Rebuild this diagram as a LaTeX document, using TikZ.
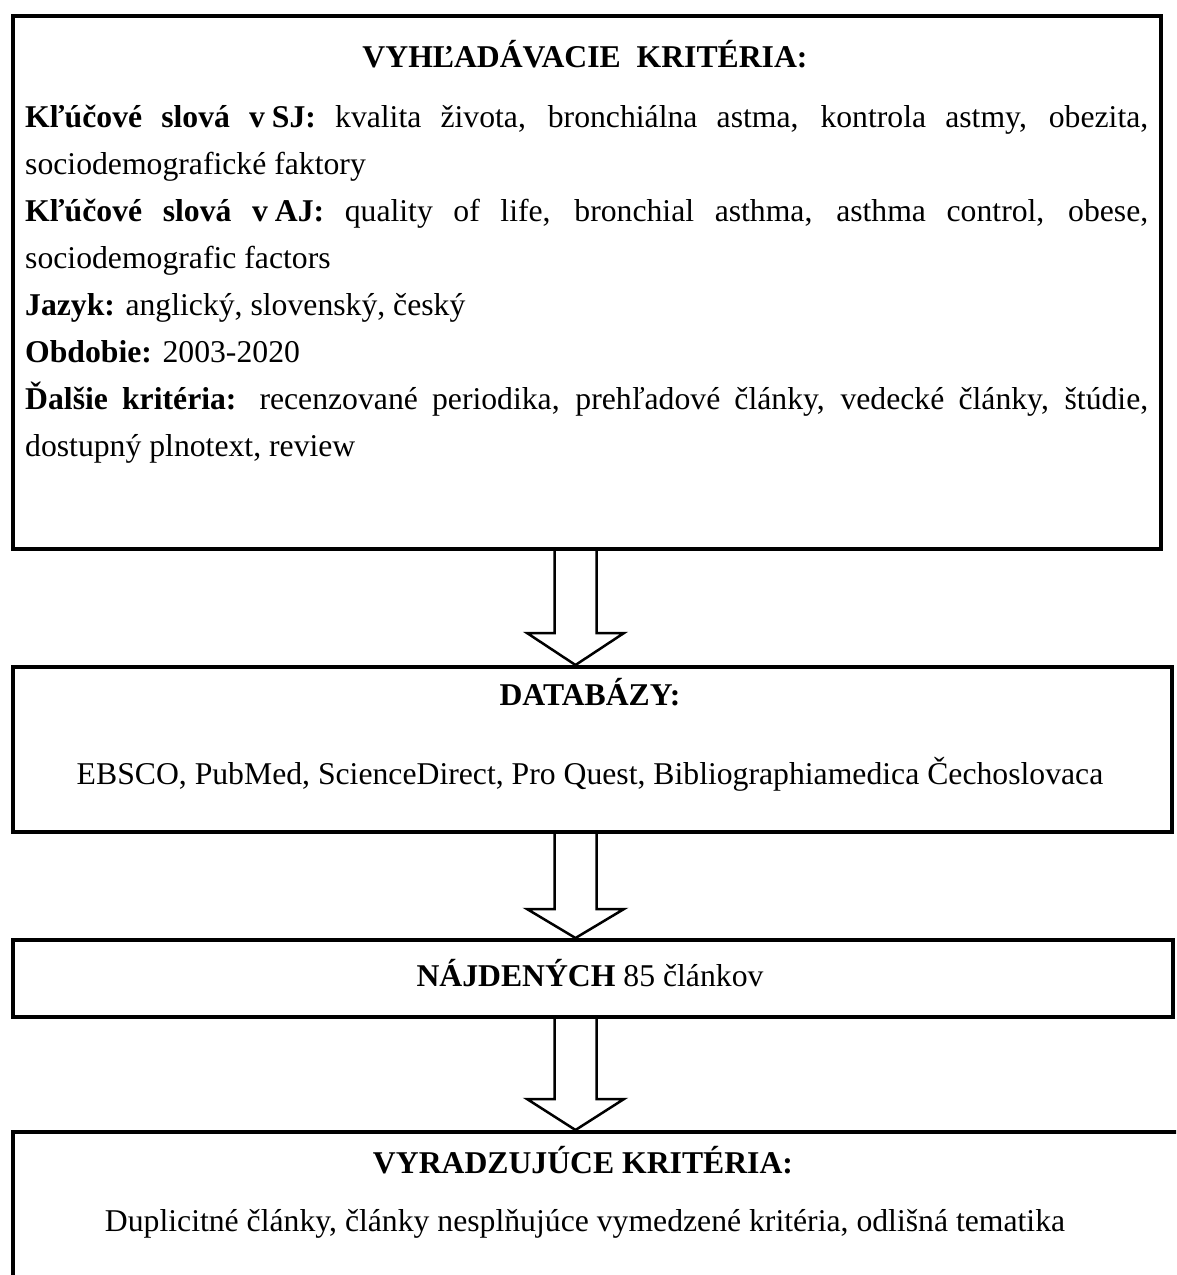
\documentclass[tikz,border=0pt]{standalone}
\usepackage{fontspec}
\setmainfont{Liberation Serif}
\usetikzlibrary{calc}
\newcommand{\bigfs}{\fontsize{31.7}{47}\selectfont}
\newcommand{\jline}[1]{\makebox[1123pt][s]{#1}}
\begin{document}
\begin{tikzpicture}[x=1pt,y=-1pt,
  box/.style={draw, line width=4pt, rectangle, anchor=north west, inner sep=0pt},
  txt/.style={anchor=base west, inner sep=0pt, font=\bigfs},
  ctxt/.style={anchor=base, inner sep=0pt, font=\bigfs},
  fat/.style={draw, line width=2.5pt, line join=miter}]
\clip (0,0) rectangle (1176,1275);
% boxes
\node[box, minimum width=1148.5pt, minimum height=533pt] (b1) at (10.5,13.5) {};
\node[box, minimum width=1159.5pt, minimum height=165pt] (b2) at (10.5,665) {};
\node[box, minimum width=1160.5pt, minimum height=77pt] (b3) at (10.5,938) {};
\node[box, minimum width=1200pt, minimum height=200pt] (b4) at (10.5,1130) {};
% arrows
\coordinate (ax) at (575.5,0);
\coordinate (a1s) at (ax |- b1.south);
\coordinate (a1t) at (ax |- b2.north);
\coordinate (a2s) at (ax |- b2.south);
\coordinate (a2t) at (ax |- b3.north);
\coordinate (a3s) at (ax |- b3.south);
\coordinate (a3t) at (ax |- b4.north);
\newcommand{\fatarrow}[3]{%
  \draw[fat] ($(#1)+(-21,0)$) -- ($(#2)+(-21,-#3)$) -- ($(#2)+(-48.5,-#3)$) -- (#2)
    -- ($(#2)+(48.5,-#3)$) -- ($(#2)+(21,-#3)$) -- ($(#1)+(21,0)$);}
\fatarrow{a1s}{a1t}{32}
\fatarrow{a2s}{a2t}{29}
\fatarrow{a3s}{a3t}{31}
% box 1 text
\node[ctxt] (t1) at (585,67) {\textbf{VYHĽADÁVACIE\ \ KRITÉRIA:}};
\node[txt] (l1) at (25,127) {\jline{\textbf{Kľúčové slová v\hspace{.22em}SJ:} kvalita života, bronchiálna astma, kontrola astmy, obezita,}};
\node[txt] (l2) at (25,174) {sociodemografické faktory};
\node[txt] (l3) at (25,221) {\jline{\textbf{Kľúčové slová v\hspace{.22em}AJ:} quality of life, bronchial asthma, asthma control, obese,}};
\node[txt] (l4) at (25,268) {sociodemografic factors};
\node[txt] (l5) at (25,315) {\textbf{Jazyk:} anglický, slovenský, český};
\node[txt] (l6) at (25,362) {\textbf{Obdobie:} 2003-2020};
\node[txt] (l7) at (25,409) {\jline{\textbf{Ďalšie kritéria:} recenzované periodika, prehľadové články, vedecké články, štúdie,}};
\node[txt] (l8) at (25,456) {dostupný plnotext, review};
% box 2 text
\node[ctxt] (t2) at (590,705) {\textbf{DATABÁZY:}};
\node[ctxt] (d2) at (590,784) {EBSCO, PubMed, ScienceDirect, Pro Quest, Bibliographiamedica Čechoslovaca};
% box 3 text
\node[ctxt] (t3) at (590,986) {\textbf{NÁJDENÝCH} 85 článkov};
% box 4 text
\node[ctxt] (t4) at (583,1173) {\textbf{VYRADZUJÚCE KRITÉRIA:}};
\node[ctxt] (d4) at (585,1231) {Duplicitné články, články nesplňujúce vymedzené kritéria, odlišná tematika};
\end{tikzpicture}
\end{document}
